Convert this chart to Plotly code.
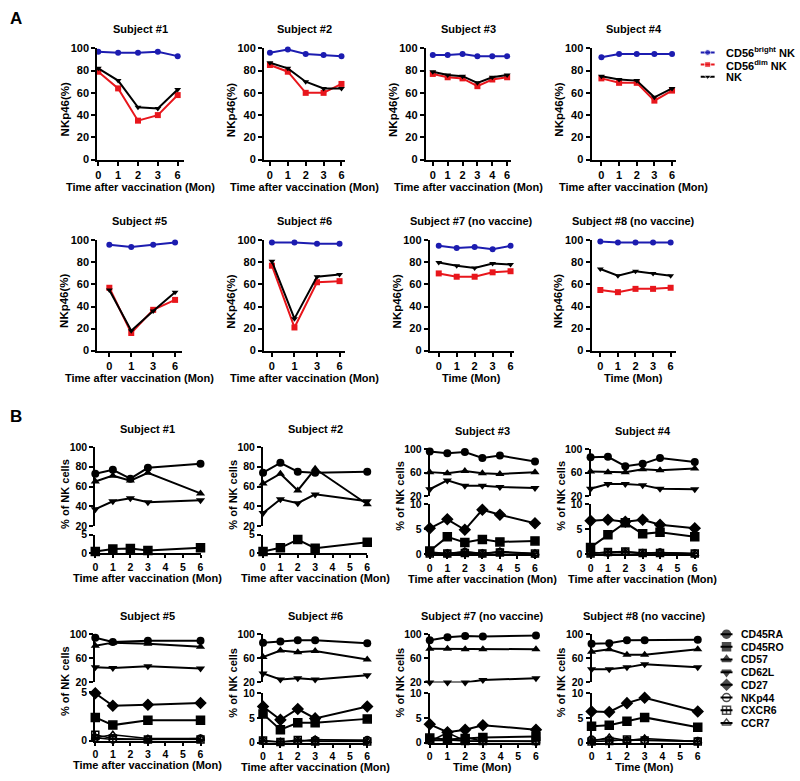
import plotly.graph_objects as go

# ---------------- Panel A data (NKp46 %) ----------------
a_s1_time = ["0", "1", "2", "3", "6"]
a_s1_bright = [97, 96, 96, 97, 93]
a_s1_dim = [79, 64, 35, 40, 58]
a_s1_nk = [82, 71, 47, 46, 63]

a_s2_time = ["0", "1", "2", "3", "6"]
a_s2_bright = [96, 99, 95, 94, 93]
a_s2_dim = [85, 79, 60, 60, 68]
a_s2_nk = [87, 82, 70, 64, 64]

a_s3_time = ["0", "1", "2", "3", "4", "6"]
a_s3_bright = [94, 94, 95, 93, 93, 93]
a_s3_dim = [77, 74, 73, 66, 72, 74]
a_s3_nk = [79, 76, 75, 69, 74, 76]

a_s4_time = ["0", "1", "2", "3", "6"]
a_s4_bright = [92, 95, 95, 95, 95]
a_s4_dim = [73, 69, 69, 53, 62]
a_s4_nk = [75, 72, 71, 56, 64]

a_s5_time = ["0", "1", "3", "6"]
a_s5_bright = [96, 94, 96, 98]
a_s5_dim = [57, 16, 37, 46]
a_s5_nk = [55, 18, 36, 53]

a_s6_time = ["0", "1", "3", "6"]
a_s6_bright = [98, 98, 97, 97]
a_s6_dim = [77, 21, 62, 63]
a_s6_nk = [81, 29, 67, 69]

a_s7_time = ["0", "1", "2", "3", "6"]
a_s7_bright = [95, 93, 94, 92, 95]
a_s7_dim = [70, 67, 67, 71, 72]
a_s7_nk = [80, 77, 75, 79, 78]

a_s8_time = ["0", "1", "2", "3", "6"]
a_s8_bright = [99, 98, 98, 98, 98]
a_s8_dim = [55, 53, 56, 56, 57]
a_s8_nk = [74, 68, 72, 70, 68]

a_series_names = ["CD56<sup>bright</sup> NK", "CD56<sup>dim</sup> NK", "NK"]

# ---------------- Panel B data (% of NK cells) ----------------
b_s1_time = [0, 1, 2, 3, 6]
b_s1_cd45ra = [73, 77, 68, 79, 83]
b_s1_cd57 = [65, 71, 66, 74, 53]
b_s1_cd62l = [37, 45, 48, 44, 46]
b_s1_cd45ro = [0.5, 1.2, 1.3, 0.8, 1.5]

b_s2_time = [0, 1, 2, 3, 6]
b_s2_cd45ra = [74, 84, 75, 74, 75]
b_s2_cd57 = [63, 73, 56, 78, 42]
b_s2_cd62l = [33, 47, 43, 52, 45]
b_s2_cd45ro = [0.5, 1.5, 3.7, 1.4, 3.0]

b_s3_time = [0, 1, 2, 3, 4, 6]
b_s3_cd45ra = [96, 93, 95, 85, 89, 79]
b_s3_cd57 = [61, 59, 63, 59, 58, 61]
b_s3_cd62l = [32, 47, 38, 38, 36, 34]
b_s3_cd45ro = [0.7, 3.5, 2.4, 3.0, 2.5, 2.7]
b_s3_cd27 = [5.2, 7.0, 4.9, 8.9, 7.9, 6.2]
b_s3_nkp44 = [0.3, 0.2, 0.5, 0.2, 0.5, 0.1]
b_s3_cxcr6 = [0.2, 0.2, 0.3, 0.2, 0.4, 0.2]
b_s3_ccr7 = [0.5, 0.2, 0.6, 0.2, 0.6, 0.2]

b_s4_time = [0, 1, 2, 3, 4, 6]
b_s4_cd45ra = [86, 87, 71, 75, 85, 78]
b_s4_cd57 = [62, 61, 61, 66, 64, 67]
b_s4_cd62l = [33, 41, 41, 39, 33, 32]
b_s4_cd45ro = [1.4, 3.9, 6.3, 4.1, 4.4, 3.5]
b_s4_cd27 = [6.7, 6.9, 6.5, 6.9, 5.9, 5.2]
b_s4_nkp44 = [0.3, 0.4, 0.5, 0.3, 0.4, 0.2]
b_s4_cxcr6 = [0.2, 0.5, 0.6, 0.3, 0.3, 0.2]
b_s4_ccr7 = [0.4, 0.3, 0.4, 0.2, 0.4, 0.1]

b_s5_time = [0, 1, 3, 6]
b_s5_cd45ra = [94, 87, 89, 89]
b_s5_cd57 = [81, 86, 84, 79]
b_s5_cd62l = [45, 44, 47, 43]
b_s5_cd45ro = [2.4, 1.6, 2.1, 2.1]
b_s5_cd27 = [4.9, 3.6, 3.7, 3.9]
b_s5_nkp44 = [0.3, 0.1, 0.1, 0.2]
b_s5_cxcr6 = [0.6, 0.2, 0.1, 0.1]
b_s5_ccr7 = [0.3, 0.6, 0.2, 0.2]

b_s6_time = [0, 1, 2, 3, 6]
b_s6_cd45ra = [86, 88, 90, 90, 85]
b_s6_cd57 = [62, 73, 70, 72, 58]
b_s6_cd62l = [35, 25, 27, 25, 32]
b_s6_cd45ro = [5.8, 2.6, 4.0, 4.0, 4.8]
b_s6_cd27 = [7.3, 4.6, 6.8, 4.9, 7.3]
b_s6_nkp44 = [0.3, 0.1, 0.3, 0.5, 0.5]
b_s6_cxcr6 = [0.4, 0.1, 0.5, 0.2, 0.2]
b_s6_ccr7 = [0.2, 0.1, 0.2, 0.6, 0.3]

b_s7_time = [0, 1, 2, 3, 6]
b_s7_cd45ra = [90, 95, 97, 96, 98]
b_s7_cd57 = [76, 76, 75, 75, 75]
b_s7_cd62l = [20, 20, 20, 24, 27]
b_s7_cd45ro = [0.9, 0.6, 0.8, 1.0, 1.2]
b_s7_cd27 = [3.7, 2.1, 2.6, 3.5, 2.6]
b_s7_nkp44 = [0.4, 0.4, 1.0, 0.3, 0.2]
b_s7_cxcr6 = [0.5, 0.5, 0.3, 0.3, 0.3]
b_s7_ccr7 = [0.2, 2.0, 0.3, 0.2, 0.2]

b_s8_time = [0, 1, 2, 3, 6]
b_s8_cd45ra = [84, 85, 90, 90, 91]
b_s8_cd57 = [71, 75, 66, 66, 75]
b_s8_cd62l = [42, 42, 45, 50, 45]
b_s8_cd45ro = [3.3, 3.5, 4.3, 5.1, 3.1]
b_s8_cd27 = [6.3, 6.2, 8.0, 9.1, 6.3]
b_s8_nkp44 = [0.6, 0.5, 0.4, 0.5, 0.3]
b_s8_cxcr6 = [0.2, 0.3, 0.6, 0.4, 0.2]
b_s8_ccr7 = [0.3, 1.0, 0.4, 0.8, 0.2]

b_series_names = ["CD45RA", "CD45RO", "CD57", "CD62L", "CD27", "NKp44", "CXCR6", "CCR7"]
b_series_symbols = ["circle", "square", "triangle-up", "triangle-down", "diamond",
                    "circle-open", "square-cross-open", "triangle-up-open"]

# ---------------- styling / layout helpers ----------------
W, H = 800, 781
FONT = "Liberation Sans"
BLACK = "black"
BLUE = "#1c1cb0"
RED = "#e8161c"
A_COLORS = [BLUE, RED, BLACK]
A_SYMBOLS = ["circle", "square", "triangle-down"]


def xd(a, b):
    return [a / W, b / W]


def yd(t, b):
    return [1 - b / H, 1 - t / H]


fig = go.Figure()
layout = dict(width=W, height=H, margin=dict(l=0, r=0, t=0, b=0),
              paper_bgcolor="white", plot_bgcolor="rgba(0,0,0,0)", showlegend=False)
annotations = []
counter = [0]


def axes(xdom, ydom, xcfg, ycfg):
    counter[0] += 1
    i = counter[0]
    s = "" if i == 1 else str(i)
    layout["xaxis" + s] = dict(domain=xd(*xdom), anchor="y" + s, **xcfg)
    layout["yaxis" + s] = dict(domain=yd(*ydom), anchor="x" + s, **ycfg)
    return "x" + s, "y" + s


def ax_style(size=11, **kw):
    d = dict(showline=True, linecolor=BLACK, linewidth=2, ticks="outside", ticklen=4,
             tickwidth=2, tickcolor=BLACK, showgrid=False, zeroline=False,
             tickfont=dict(family=FONT, size=size, color=BLACK, weight="bold"),
             fixedrange=True)
    d.update(kw)
    return d


HIDDEN = dict(visible=False, fixedrange=True, showgrid=False, zeroline=False)


def txt(x, y, s, size=10, angle=0, xanchor="center", yanchor="middle"):
    annotations.append(dict(x=x / W, y=1 - y / H, xref="paper", yref="paper", text=s,
                            showarrow=False, textangle=angle, xanchor=xanchor, yanchor=yanchor,
                            font=dict(family=FONT, size=size, color=BLACK, weight="bold")))


# ---------------- Panel A ----------------
A_ROW1 = (43, 156)
A_ROW2 = (238, 350)
a_specs = [
    ("Subject #1", "Time after vaccination (Mon)", a_s1_time, a_s1_bright, a_s1_dim, a_s1_nk, (95, 182), A_ROW1, [-0.05, 4.3]),
    ("Subject #2", "Time after vaccination (Mon)", a_s2_time, a_s2_bright, a_s2_dim, a_s2_nk, (263, 345), A_ROW1, [-0.33, 4.22]),
    ("Subject #3", "Time after vaccination (Mon)", a_s3_time, a_s3_bright, a_s3_dim, a_s3_nk, (426, 512), A_ROW1, [-0.47, 5.27]),
    ("Subject #4", "Time after vaccination (Mon)", a_s4_time, a_s4_bright, a_s4_dim, a_s4_nk, (593, 678), A_ROW1, [-0.56, 4.22]),
    ("Subject #5", "Time after vaccination (Mon)", a_s5_time, a_s5_bright, a_s5_dim, a_s5_nk, (95, 180), A_ROW2, [-0.55, 3.3]),
    ("Subject #6", "Time after vaccination (Mon)", a_s6_time, a_s6_bright, a_s6_dim, a_s6_nk, (263, 345), A_ROW2, [-0.35, 3.26]),
    ("Subject #7 (no vaccine)", "Time (Mon)", a_s7_time, a_s7_bright, a_s7_dim, a_s7_nk, (430, 515), A_ROW2, [-0.5, 4.2]),
    ("Subject #8 (no vaccine)", "Time (Mon)", a_s8_time, a_s8_bright, a_s8_dim, a_s8_nk, (593, 678), A_ROW2, [-0.5, 4.3]),
]

for title, xtitle, times, bright, dim, nk, xdom, ydom, xr in a_specs:
    xa, ya = axes(xdom, ydom,
                  ax_style(type="category", range=xr),
                  ax_style(range=[0, 100], tickvals=[0, 20, 40, 60, 80, 100]))
    for vals, col, sym in zip([bright, dim, nk], A_COLORS, A_SYMBOLS):
        fig.add_trace(go.Scatter(x=times, y=vals, xaxis=xa, yaxis=ya, mode="lines+markers",
                                 line=dict(color=col, width=2),
                                 marker=dict(color=col, size=6, symbol=sym),
                                 cliponaxis=False, hoverinfo="skip"))
    cx = (xdom[0] + xdom[1]) / 2
    txt(cx, ydom[0] - 20, title, size=11)
    txt(cx, ydom[1] + 28, xtitle, size=11)
    txt(xdom[0] - 33, (ydom[0] + ydom[1]) / 2 + 6, "NKp46(%)", size=11.5, angle=-90)

# legend A (keys placed by series index)
lx, ly = axes((700, 800), (41, 78),
              dict(HIDDEN, range=[0, 10]),
              dict(HIDDEN, range=[-0.5, len(a_series_names) - 0.5]))
for i, (name, col, sym) in enumerate(zip(a_series_names, A_COLORS, A_SYMBOLS)):
    row = len(a_series_names) - 1 - i
    fig.add_trace(go.Scatter(x=[0.3, 1.0, 1.7], y=[row] * 3, xaxis=lx, yaxis=ly,
                             mode="lines+markers", line=dict(color=col, width=2),
                             marker=dict(color=col, size=[0, 6, 0], symbol=sym),
                             cliponaxis=False, hoverinfo="skip"))
    annotations.append(dict(x=2.6, y=row, xref=lx, yref=ly, text=name, showarrow=False,
                            xanchor="left", yanchor="middle",
                            font=dict(family=FONT, size=11, color=BLACK, weight="bold")))

# ---------------- Panel B ----------------
b_specs = [
    ("Subject #1", "Time after vaccination (Mon)", b_s1_time,
     [b_s1_cd45ra, b_s1_cd57, b_s1_cd62l], [b_s1_cd45ro, None, None, None, None],
     (93, 199), (448, 528), (537, 556), 5, [20, 40, 60, 80, 100]),
    ("Subject #2", "Time after vaccination (Mon)", b_s2_time,
     [b_s2_cd45ra, b_s2_cd57, b_s2_cd62l], [b_s2_cd45ro, None, None, None, None],
     (262, 367), (448, 528), (537, 556), 5, [20, 40, 60, 80, 100]),
    ("Subject #3", "Time after vaccination (Mon)", b_s3_time,
     [b_s3_cd45ra, b_s3_cd57, b_s3_cd62l], [b_s3_cd45ro, b_s3_cd27, b_s3_nkp44, b_s3_cxcr6, b_s3_ccr7],
     (430, 536), (450, 498), (506, 557), 10, [20, 60, 100]),
    ("Subject #4", "Time after vaccination (Mon)", b_s4_time,
     [b_s4_cd45ra, b_s4_cd57, b_s4_cd62l], [b_s4_cd45ro, b_s4_cd27, b_s4_nkp44, b_s4_cxcr6, b_s4_ccr7],
     (592, 697), (450, 498), (506, 557), 10, [20, 60, 100]),
    ("Subject #5", "Time after vaccination (Mon)", b_s5_time,
     [b_s5_cd45ra, b_s5_cd57, b_s5_cd62l], [b_s5_cd45ro, b_s5_cd27, b_s5_nkp44, b_s5_cxcr6, b_s5_ccr7],
     (93, 199), (638, 687), (697, 746), 5, [20, 60, 100]),
    ("Subject #6", "Time after vaccination (Mon)", b_s6_time,
     [b_s6_cd45ra, b_s6_cd57, b_s6_cd62l], [b_s6_cd45ro, b_s6_cd27, b_s6_nkp44, b_s6_cxcr6, b_s6_ccr7],
     (262, 367), (638, 687), (698, 748), 10, [20, 60, 100]),
    ("Subject #7 (no vaccine)", "Time (Mon)", b_s7_time,
     [b_s7_cd45ra, b_s7_cd57, b_s7_cd62l], [b_s7_cd45ro, b_s7_cd27, b_s7_nkp44, b_s7_cxcr6, b_s7_ccr7],
     (430, 537), (638, 687), (698, 748), 10, [20, 60, 100]),
    ("Subject #8 (no vaccine)", "Time (Mon)", b_s8_time,
     [b_s8_cd45ra, b_s8_cd57, b_s8_cd62l], [b_s8_cd45ro, b_s8_cd27, b_s8_nkp44, b_s8_cxcr6, b_s8_ccr7],
     (593, 700), (638, 687), (698, 748), 10, [20, 60, 100]),
]

UPPER_SYMS = ["circle", "triangle-up", "triangle-down"]
LOWER_SYMS = ["square", "diamond", "circle-open", "square-cross-open", "triangle-up-open"]

for title, xtitle, times, upper, lower, xdom, tdom, bdom, lmax, uticks in b_specs:
    # upper section (20-100)
    xa, ya = axes(xdom, tdom, dict(HIDDEN, range=[0, 6]),
                  ax_style(size=10.5, range=[20, 100], tickvals=uticks))
    for vals, sym in zip(upper, UPPER_SYMS):
        fig.add_trace(go.Scatter(x=times, y=vals, xaxis=xa, yaxis=ya, mode="lines+markers",
                                 line=dict(color=BLACK, width=2),
                                 marker=dict(color=BLACK, size=8, symbol=sym),
                                 cliponaxis=False, hoverinfo="skip"))
    # lower section (0-5 / 0-10)
    xb, yb = axes(xdom, bdom,
                  ax_style(size=10.5, range=[0, 6], tickvals=[0, 1, 2, 3, 4, 5, 6], ticklen=3),
                  ax_style(size=10.5, range=[0, lmax], tickvals=list(range(0, lmax + 1, 5))))
    order = [2, 3, 4, 0, 1]
    for j in order:
        vals = lower[j]
        if vals is None:
            continue
        sym = LOWER_SYMS[j]
        fig.add_trace(go.Scatter(x=times, y=vals, xaxis=xb, yaxis=yb, mode="lines+markers",
                                 line=dict(color=BLACK, width=2 if j < 2 else 1.5),
                                 marker=dict(color=BLACK, size=8 if j < 2 else 7, symbol=sym,
                                             line=dict(color=BLACK, width=1.5)),
                                 cliponaxis=False, hoverinfo="skip"))
    cx = (xdom[0] + xdom[1]) / 2
    txt(cx, tdom[0] - 18, title, size=11)
    txt(cx, bdom[1] + 25, xtitle, size=11)
    txt(xdom[0] - 30, (tdom[0] + bdom[1]) / 2 - 6, "% of NK cells", size=11, angle=-90)

# legend B (keys placed by series index)
n_b = len(b_series_names)
lx2, ly2 = axes((715, 800), (631.5, 734.5),
                dict(HIDDEN, range=[0, 8.5]),
                dict(HIDDEN, range=[-0.5, n_b - 0.5]))
for i, (name, sym) in enumerate(zip(b_series_names, b_series_symbols)):
    row = n_b - 1 - i
    fig.add_trace(go.Scatter(x=[0.8, 1.4, 2.0], y=[row] * 3, xaxis=lx2, yaxis=ly2,
                             mode="lines+markers", line=dict(color=BLACK, width=2),
                             marker=dict(color=BLACK, size=[0, 8, 0], symbol=sym,
                                         line=dict(color=BLACK, width=1.5)),
                             cliponaxis=False, hoverinfo="skip"))
    annotations.append(dict(x=2.7, y=row, xref=lx2, yref=ly2, text=name, showarrow=False,
                            xanchor="left", yanchor="middle",
                            font=dict(family=FONT, size=10.5, color=BLACK, weight="bold")))

# panel letters
txt(5, 13, "A", size=17, xanchor="left")
txt(5, 417, "B", size=17, xanchor="left")

layout["annotations"] = annotations
fig.update_layout(**layout)
fig.write_html("out.html", config={"displayModeBar": False, "staticPlot": True},
               post_script="document.body.style.margin='0';document.body.style.padding='0';")
